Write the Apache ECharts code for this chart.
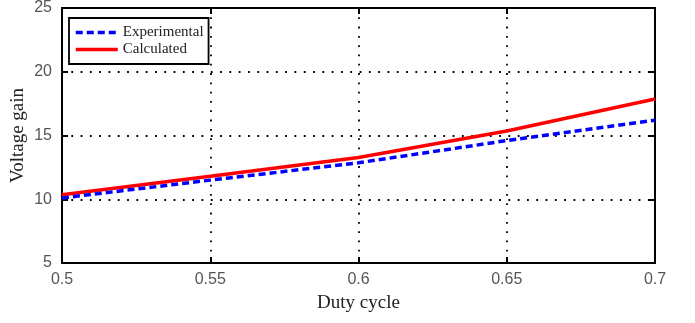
<!DOCTYPE html>
<html>
<head>
<meta charset="utf-8">
<script src="https://cdn.jsdelivr.net/npm/echarts@6/dist/echarts.min.js"></script>
<style>
  html, body { margin: 0; padding: 0; background: #fff; }
  #chart { width: 695px; height: 323px; }
</style>
</head>
<body>
<div id="chart"></div>
<script>
const dutyCycle = [0.5, 0.55, 0.6, 0.65, 0.7]
const experimental = [10.1, 11.5, 12.86, 14.6, 16.2]
const calculated = [10.35, 11.8, 13.27, 15.35, 17.86]

const tickFont = { fontFamily: 'Liberation Sans', fontSize: 16, color: '#555' }
const serif = 'Liberation Serif'

const chart = echarts.init(document.getElementById('chart'))

const tickStyle = { show: true, inside: true, length: 6, lineStyle: { color: '#000', width: 2 } }
const gridDots = { show: true, lineStyle: { color: '#000', width: 1.8, type: [1.8, 7.5] } }

const option = {
  animation: false,
  grid: {
    left: 62, right: 40, top: 6, bottom: 60,
    show: true, borderColor: '#000', borderWidth: 2, backgroundColor: '#fff'
  },
  legend: {
    orient: 'vertical',
    left: 69,
    top: 18,
    padding: [7, 5, 7, 5],
    itemWidth: 42,
    itemHeight: 14,
    itemGap: 2,
    itemStyle: { opacity: 0 },
    lineStyle: { width: 3.5 },
    backgroundColor: '#fff',
    borderColor: '#000',
    borderWidth: 1.8,
    borderRadius: 0,
    textStyle: { fontFamily: serif, fontSize: 15, color: '#222', lineHeight: 14 },
    data: ['Experimental', 'Calculated']
  },
  xAxis: [
    {
      type: 'value',
      min: 0.5,
      max: 0.7,
      interval: 0.05,
      name: 'Duty cycle',
      nameLocation: 'middle',
      nameGap: 31,
      nameTextStyle: { fontFamily: serif, fontSize: 19, color: '#222' },
      axisLine: { show: false },
      axisTick: tickStyle,
      axisLabel: { ...tickFont, margin: 9 },
      splitLine: gridDots
    },
    {
      type: 'value',
      position: 'top',
      min: 0.5,
      max: 0.7,
      interval: 0.05,
      axisLine: { show: false },
      axisTick: tickStyle,
      axisLabel: { show: false },
      splitLine: { show: false }
    }
  ],
  yAxis: [
    {
      type: 'value',
      min: 5,
      max: 25,
      interval: 5,
      name: 'Voltage gain',
      nameLocation: 'middle',
      nameGap: 34,
      nameMoveOverlap: false,
      nameTextStyle: { fontFamily: serif, fontSize: 19, color: '#222' },
      axisLine: { show: false },
      axisTick: tickStyle,
      axisLabel: { ...tickFont, margin: 10 },
      splitLine: gridDots
    },
    {
      type: 'value',
      position: 'right',
      min: 5,
      max: 25,
      interval: 5,
      axisLine: { show: false },
      axisTick: tickStyle,
      axisLabel: { show: false },
      splitLine: { show: false }
    }
  ],
  series: [
    {
      name: 'Experimental',
      type: 'line',
      data: dutyCycle.map((x, i) => [x, experimental[i]]),
      symbol: 'none',
      z: 3,
      lineStyle: { color: '#0000ff', width: 3.5, type: [7, 4] },
      itemStyle: { color: '#0000ff' }
    },
    {
      name: 'Calculated',
      type: 'line',
      data: dutyCycle.map((x, i) => [x, calculated[i]]),
      symbol: 'none',
      z: 2,
      lineStyle: { color: '#ff0000', width: 3.5 },
      itemStyle: { color: '#ff0000' }
    }
  ]
}

chart.setOption(option)
window.addEventListener('resize', () => chart.resize())
</script>
</body>
</html>
